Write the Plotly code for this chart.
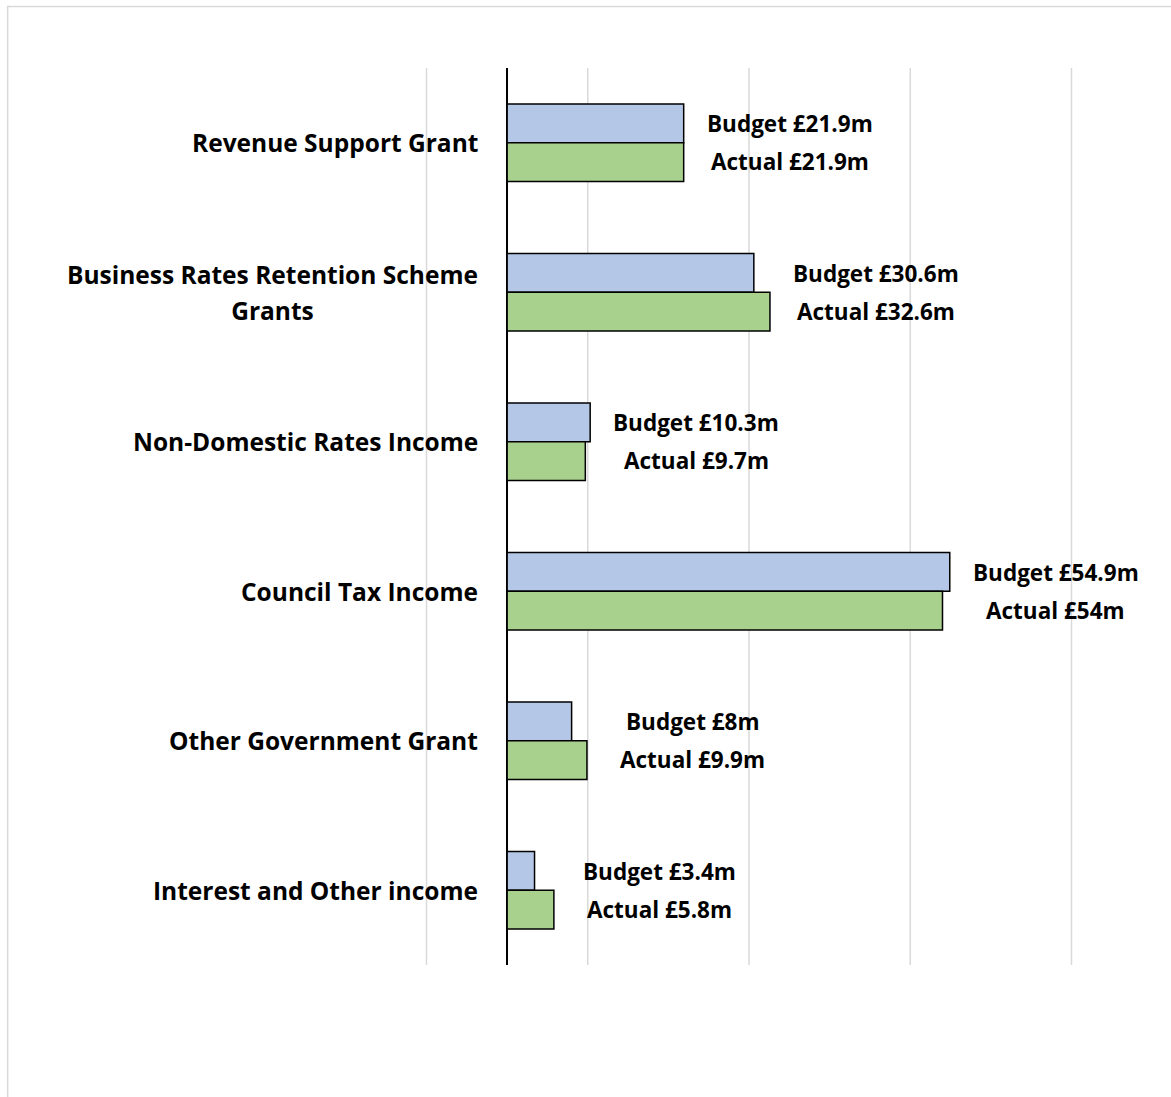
import plotly.graph_objects as go

categories = [
    "Revenue Support Grant",
    "Business Rates Retention Scheme<br>Grants",
    "Non-Domestic Rates Income",
    "Council Tax Income",
    "Other Government Grant",
    "Interest and Other income",
]
budget = [21.9, 30.6, 10.3, 54.9, 8.0, 3.4]
actual = [21.9, 32.6, 9.7, 54.0, 9.9, 5.8]
budget_labels = ["Budget £21.9m", "Budget £30.6m", "Budget £10.3m", "Budget £54.9m", "Budget £8m", "Budget £3.4m"]
actual_labels = ["Actual £21.9m", "Actual £32.6m", "Actual £9.7m", "Actual £54m", "Actual £9.9m", "Actual £5.8m"]
grid_vals = [-10, 10, 30, 50, 70]
x_min, x_max = -10, 70

W, H = 1171, 1097
L0, R0, T, B = 426, 1072, 68, 965
PAD = 1.5  # px of slack so edge gridlines are not clipped
ppu = (R0 - L0) / (x_max - x_min)
L, R = L0 - PAD, R0 + PAD
FONT = "Open Sans"
CAT_SIZE = 24.5
LBL_SIZE = 22.5

fig = go.Figure()
fig.add_trace(go.Bar(y=categories, x=budget, orientation="h", name="Budget",
                     marker=dict(color="#b4c7e7", line=dict(color="black", width=1.5))))
fig.add_trace(go.Bar(y=categories, x=actual, orientation="h", name="Actual",
                     marker=dict(color="#a9d18e", line=dict(color="black", width=1.5))))

annots = []
for i, cat in enumerate(categories):
    if "<br>" in cat:
        txt = "<br>".join(f"<span style='font-size:{CAT_SIZE}px'>{p}</span>" for p in cat.split("<br>"))
        fsize = 28
    else:
        txt = cat
        fsize = CAT_SIZE
    annots.append(dict(x=0, y=cat, xref="x", yref="y", text=txt, showarrow=False,
                       xanchor="right", yanchor="middle", align="center", xshift=-27,
                       font=dict(family=FONT, size=fsize, color="black", weight="bold")))
    xm = max(budget[i], actual[i])
    annots.append(dict(x=xm, y=cat, xref="x", yref="y", text=budget_labels[i], showarrow=False,
                       xanchor="center", yanchor="middle", xshift=106, yshift=19,
                       font=dict(family=FONT, size=LBL_SIZE, color="black", weight="bold")))
    annots.append(dict(x=xm, y=cat, xref="x", yref="y", text=actual_labels[i], showarrow=False,
                       xanchor="center", yanchor="middle", xshift=106, yshift=-19,
                       font=dict(family=FONT, size=LBL_SIZE, color="black", weight="bold")))

pw = R - L
ph = B - T
shapes = [dict(type="line", xref="x", yref="paper", x0=g, x1=g, y0=0, y1=1,
               line=dict(color="#d9d9d9", width=1.5), layer="below") for g in grid_vals]
shapes.append(dict(type="rect", xref="paper", yref="paper",
                   x0=(6.5 - L) / pw, x1=(1175 - L) / pw,
                   y0=(B - 1100) / ph, y1=(B - 6.5) / ph,
                   line=dict(color="#d9d9d9", width=1.5), fillcolor="rgba(0,0,0,0)",
                   layer="below"))

fig.update_layout(
    width=W, height=H,
    margin=dict(l=L, r=W - R, t=T, b=H - B, pad=0),
    paper_bgcolor="white", plot_bgcolor="white",
    barmode="group", bargap=0.48, bargroupgap=0,
    showlegend=False,
    font=dict(family=FONT),
    xaxis=dict(range=[x_min - PAD / ppu, x_max + PAD / ppu], tickvals=grid_vals,
               showticklabels=False, showgrid=False,
               zeroline=True, zerolinecolor="black", zerolinewidth=1.5,
               showline=False, fixedrange=True),
    yaxis=dict(autorange="reversed", showticklabels=False, showgrid=False,
               showline=False, zeroline=False, ticks=""),
    annotations=annots,
    shapes=shapes,
)

fig.write_html("out.html")
